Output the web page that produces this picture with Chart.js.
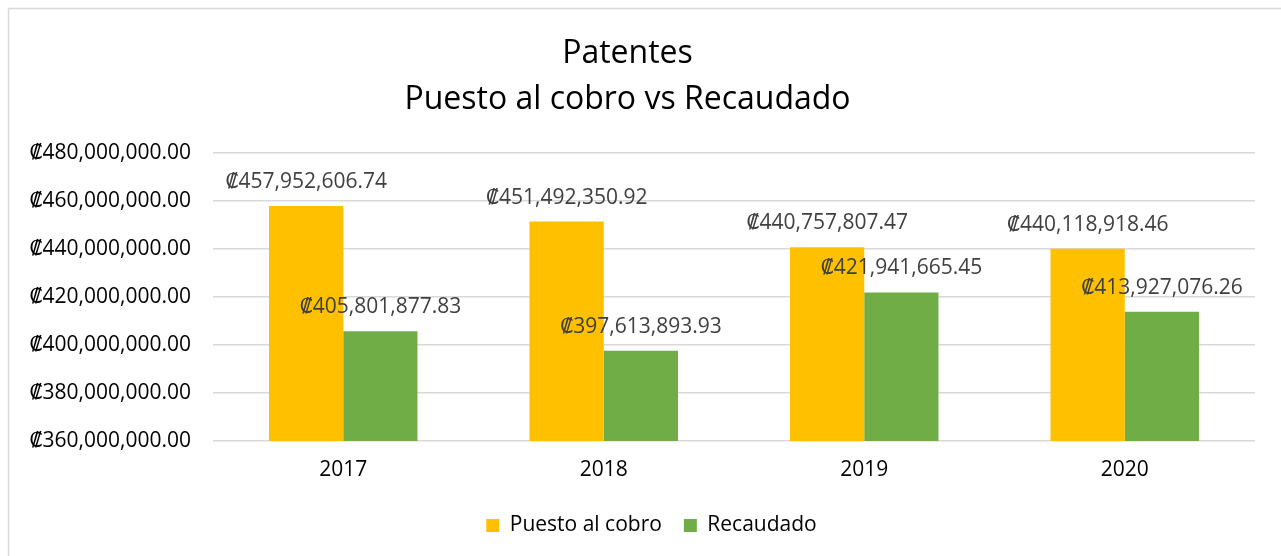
<!DOCTYPE html>
<html>
<head>
<meta charset="utf-8">
<script src="https://cdn.jsdelivr.net/npm/chart.js@4"></script>
<style>
html,body{margin:0;padding:0;background:#fff;}
#wrap{position:relative;width:1281px;height:556px;}
canvas{display:block;}
</style>
</head>
<body>
<div id="wrap"><canvas id="c" width="1281" height="556"></canvas></div>
<script>
const categories = ['2017', '2018', '2019', '2020'];
const seriesNames = ['Puesto al cobro', 'Recaudado'];
const puestoAlCobro = [457952606.74, 451492350.92, 440757807.47, 440118918.46];
const recaudado = [405801877.83, 397613893.93, 421941665.45, 413927076.26];
const yTicks = [360000000, 380000000, 400000000, 420000000, 440000000, 460000000, 480000000];
const titleLines = ['Patentes', 'Puesto al cobro vs Recaudado'];

const FONT = "'Open Sans', 'DejaVu Sans', sans-serif";
const FS = 21;
const fmt = v => '\u20A1' + v.toLocaleString('en-US', {minimumFractionDigits: 2, maximumFractionDigits: 2});

const frame = {
  id: 'frame',
  beforeDraw(chart) {
    const ctx = chart.ctx;
    ctx.save();
    ctx.strokeStyle = '#d9d9d9';
    ctx.lineWidth = 1.5;
    ctx.beginPath();
    ctx.moveTo(8.5, 560); ctx.lineTo(8.5, 8.5); ctx.lineTo(1290, 8.5);
    ctx.stroke();
    ctx.restore();
  }
};

const legendShift = {
  id: 'legendShift',
  afterLayout(chart) {
    if (chart.legend) {
      chart.legend.left += 24;
      chart.legend.right += 24;
    }
  }
};

const valueLabels = {
  id: 'valueLabels',
  afterDatasetsDraw(chart) {
    const ctx = chart.ctx;
    ctx.save();
    ctx.font = FS + "px " + FONT;
    ctx.fillStyle = '#404040';
    ctx.textAlign = 'center';
    ctx.textBaseline = 'alphabetic';
    chart.data.datasets.forEach((ds, i) => {
      chart.getDatasetMeta(i).data.forEach((el, j) => {
        ctx.fillText(fmt(ds.data[j]), el.x, el.y - 18);
      });
    });
    ctx.restore();
  }
};

new Chart(document.getElementById('c'), {
  type: 'bar',
  data: {
    labels: categories,
    datasets: [
      {label: seriesNames[0], data: puestoAlCobro, backgroundColor: '#FFC000', categoryPercentage: 0.57, barPercentage: 1},
      {label: seriesNames[1], data: recaudado, backgroundColor: '#70AD47', categoryPercentage: 0.57, barPercentage: 1}
    ]
  },
  options: {
    responsive: false,
    animation: false,
    layout: {padding: {left: 0, right: 26, top: 28, bottom: 10}},
    plugins: {
      title: {
        display: true,
        text: titleLines,
        color: '#000',
        font: {family: FONT, size: 32, weight: 'normal', lineHeight: 1.44},
        padding: {top: 3, bottom: 30}
      },
      legend: {
        position: 'bottom',
        labels: {
          color: '#000',
          font: {family: FONT, size: FS},
          boxWidth: 13,
          boxHeight: 13,
          padding: 22
        }
      },
      tooltip: {enabled: false}
    },
    scales: {
      x: {
        grid: {display: false, drawTicks: false},
        border: {display: false},
        afterFit(scale) { scale.height = 52; },
        ticks: {color: '#000', font: {family: FONT, size: FS}, padding: 16}
      },
      y: {
        min: yTicks[0],
        max: yTicks[yTicks.length - 1],
        afterBuildTicks(scale) { scale.ticks = yTicks.map(v => ({value: v})); },
        afterFit(scale) { scale.width = 213; },
        grid: {color: '#d9d9d9', lineWidth: 1.5, drawTicks: false},
        border: {display: false},
        ticks: {color: '#000', font: {family: FONT, size: FS}, padding: 22, callback: v => fmt(v)}
      }
    }
  },
  plugins: [frame, legendShift, valueLabels]
});
</script>
</body>
</html>
